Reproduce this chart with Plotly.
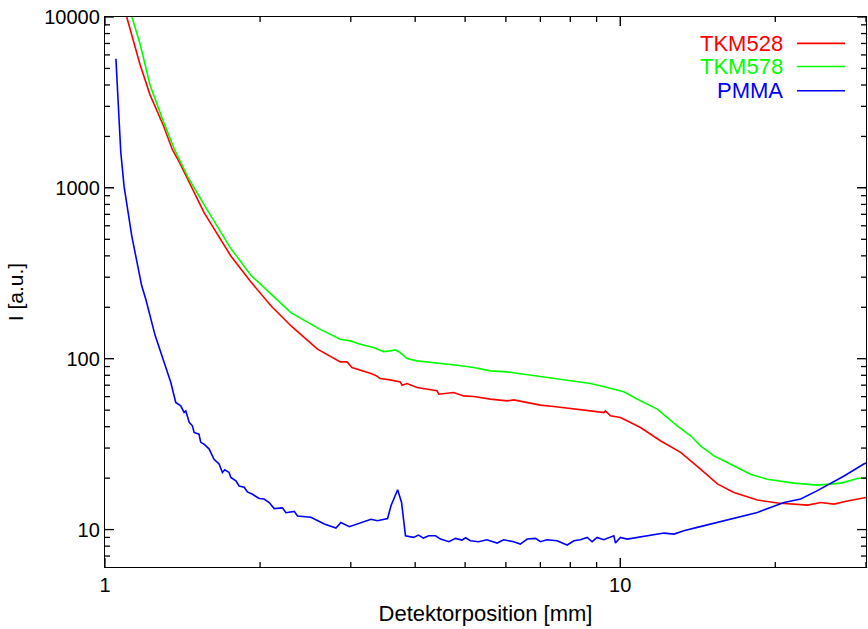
import plotly.graph_objects as go

# TKM528 (red)
tkm528_x = [1.102, 1.169, 1.223, 1.298, 1.351, 1.398, 1.557, 1.755, 1.913, 2.099, 2.3, 2.585,
            2.862, 2.949, 3.015, 3.129, 3.272, 3.346, 3.421, 3.578, 3.742, 3.772, 3.857, 4.033, 4.217,
            4.41, 4.443, 4.75, 4.967, 5.195, 5.598, 6.032, 6.215, 6.597, 7.0, 7.43, 8.125, 8.755, 9.293,
            9.36, 9.576, 10.01, 10.47, 10.95, 11.97, 13.1, 14.32, 15.44, 16.62, 18.46, 20.2, 23.1, 24.5,
            26.0, 27.6, 29.3, 30.0]
tkm528_y = [10000, 5286, 3503, 2318, 1679, 1389, 716, 399, 285, 204, 155, 113.7,
            95.8, 95.8, 88.8, 86.0, 82.3, 80.1, 76.6, 75.2, 73.2, 70.0, 71.6, 67.8, 66.3,
            64.9, 62.0, 63.4, 60.6, 60.1, 58.0, 56.7, 57.4, 55.4, 53.5, 52.5, 51.1, 49.5, 48.4,
            49.5, 46.3, 45.3, 42.3, 39.6, 33.1, 28.3, 22.6, 18.5, 16.5, 14.9, 14.3, 13.9, 14.4,
            14.1, 14.7, 15.1, 15.4]

# TKM578 (green)
tkm578_x = [1.128, 1.169, 1.223, 1.298, 1.362, 1.45, 1.58, 1.75, 1.919, 2.295, 2.6, 2.862, 2.992,
            3.129, 3.32, 3.473, 3.578, 3.66, 3.742, 3.857, 4.033, 4.217, 4.476, 4.824, 5.195, 5.598,
            6.032, 6.496, 7.0, 7.54, 7.89, 8.125, 8.755, 9.435, 10.16, 10.95, 11.8, 12.9, 13.7, 14.32,
            15.2, 16.14, 17.13, 17.9, 19.3, 21.75, 24.14, 26.8, 28.9, 30.0]
tkm578_y = [10000, 7000, 4000, 2450, 1700, 1150, 740, 447, 308, 186, 150, 130.0, 127.2,
            121.6, 116.2, 110.1, 111.1, 112.6, 108.7, 100.2, 97.1, 95.8, 93.7, 91.6, 88.8, 84.9,
            83.8, 81.2, 79.4, 76.6, 75.2, 74.2, 71.6, 67.8, 64.0, 56.7, 50.7, 40.5, 35.4, 30.9,
            27.0, 24.7, 22.6, 21.1, 19.7, 18.7, 18.2, 18.7, 19.9, 20.1]

# PMMA (blue)
pmma_x = [1.050, 1.056, 1.061, 1.073, 1.089, 1.127, 1.178, 1.2, 1.251, 1.318, 1.342, 1.372, 1.403,
          1.424, 1.435, 1.457, 1.478, 1.489, 1.522, 1.534, 1.557, 1.593, 1.605, 1.628, 1.665, 1.69,
          1.708, 1.741, 1.755, 1.795, 1.821, 1.863, 1.89, 1.933, 1.992, 2.036, 2.083, 2.13, 2.21,
          2.245, 2.33, 2.364, 2.51, 2.585, 2.665, 2.807, 2.87, 2.98, 3.09, 3.283, 3.38, 3.536, 3.59,
          3.698, 3.764, 3.81, 3.83, 3.97, 4.06, 4.15, 4.25, 4.38, 4.48, 4.65, 4.79, 4.93, 5.01, 5.12,
          5.31, 5.51, 5.77, 5.94, 6.21, 6.40, 6.60, 6.85, 7.00, 7.21, 7.54, 7.89, 8.13, 8.37, 8.63,
          8.82, 9.02, 9.29, 9.72, 9.79, 10.01, 10.32, 10.79, 11.46, 12.16, 12.72, 13.29, 14.11,
          15.44, 16.88, 18.46, 20.8, 22.4, 24.14, 26.0, 27.2, 29.7, 30.0]
pmma_y = [5700, 4100, 2600, 1620, 1020, 524, 268, 223, 137, 86.5, 72.6, 55.5, 53.0,
          48.5, 49.5, 42.4, 40.5, 37.0, 36.2, 32.4, 31.6, 29.6, 28.3, 25.8, 24.2, 21.6,
          22.4, 21.6, 20.2, 19.3, 18.0, 17.7, 16.6, 16.1, 15.2, 15.1, 14.4, 13.27, 13.4,
          12.56, 12.78, 12.0, 11.8, 11.26, 10.78, 10.2, 11.0, 10.4, 10.77, 11.5, 11.26, 11.6, 13.8,
          17.1, 14.4, 10.07, 9.20, 9.00, 9.29, 8.92, 9.20, 9.20, 8.80, 8.49, 8.88, 8.68, 8.96, 8.60,
          8.49, 8.72, 8.34, 8.72, 8.49, 8.23, 8.80, 8.88, 8.49, 8.72, 8.60, 8.12, 8.60, 8.72, 9.00,
          8.49, 9.00, 8.72, 9.20, 8.34, 9.00, 8.80, 9.00, 9.20, 9.54, 9.41, 9.84, 10.30,
          11.0, 11.8, 12.6, 14.4, 15.1, 16.9, 19.0, 20.6, 24.2, 24.5]

x_tickvals = [1, 10]
x_ticktext = ["1", "10"]
x_minor = [2, 3, 4, 5, 6, 7, 8, 9, 20, 30]
y_tickvals = [10, 100, 1000, 10000]
y_ticktext = ["10", "100", "1000", "10000"]
y_minor = [7, 8, 9, 20, 30, 40, 50, 60, 70, 80, 90, 200, 300, 400, 500, 600, 700, 800, 900,
           2000, 3000, 4000, 5000, 6000, 7000, 8000, 9000]

series = [
    ("TKM528", tkm528_x, tkm528_y, "#ff0000"),
    ("TKM578", tkm578_x, tkm578_y, "#00ff00"),
    ("PMMA", pmma_x, pmma_y, "#0000ff"),
]

FONT = "Liberation Sans, Arial, Helvetica, sans-serif"
W, H = 868, 629
ML, MR, MT, MB = 105, 2, 17, 62
PLOT_W, PLOT_H = W - ML - MR, H - MT - MB
MAJOR_LEN, MINOR_LEN = 9, 5

fig = go.Figure()
for name, xs, ys, col in series:
    fig.add_trace(go.Scatter(x=xs, y=ys, mode="lines", name=name,
                             line=dict(color=col, width=1.6), showlegend=False))

# gnuplot-style key: text right-aligned, line sample to the right
legend_rows = [0.952, 0.910, 0.866]
for (name, xs, ys, col), yp in zip(series, legend_rows):
    fig.add_annotation(x=0.8936, y=yp, xref="paper", yref="paper", text=name,
                       showarrow=False, xanchor="right", yanchor="middle",
                       font=dict(family=FONT, size=22, color=col))
    fig.add_shape(type="line", xref="paper", yref="paper", x0=0.9093, x1=0.9724,
                  y0=yp, y1=yp, line=dict(color=col, width=1.6))

# inward tick marks on all four sides, positioned at the tick values via the axes
tick_line = dict(color="black", width=1.3)
for vals, ln in ((x_tickvals, MAJOR_LEN), (x_minor, MINOR_LEN)):
    f = ln / PLOT_H
    for v in vals:
        fig.add_shape(type="line", xref="x", yref="y domain", x0=v, x1=v, y0=0, y1=f, line=tick_line)
        fig.add_shape(type="line", xref="x", yref="y domain", x0=v, x1=v, y0=1, y1=1 - f, line=tick_line)
for vals, ln in ((y_tickvals, MAJOR_LEN), (y_minor, MINOR_LEN)):
    f = ln / PLOT_W
    for v in vals:
        fig.add_shape(type="line", xref="x domain", yref="y", y0=v, y1=v, x0=0, x1=f, line=tick_line)
        fig.add_shape(type="line", xref="x domain", yref="y", y0=v, y1=v, x0=1, x1=1 - f, line=tick_line)

axis_common = dict(showline=True, linecolor="black", linewidth=1.3, mirror="allticks",
                   ticks="inside", ticklen=MAJOR_LEN, tickcolor="black", tickwidth=1.3,
                   showgrid=False, zeroline=False,
                   tickfont=dict(family=FONT, size=20, color="black"))

fig.update_xaxes(type="log", range=[0, 1.4771], tickvals=x_tickvals, ticktext=x_ticktext,
                 title=dict(text="Detektorposition [mm]", font=dict(family=FONT, size=22, color="black"),
                            standoff=10), **axis_common)
fig.update_yaxes(type="log", range=[0.781, 4.0], tickvals=y_tickvals, ticktext=y_ticktext,
                 title=dict(text="I [a.u.]", font=dict(family=FONT, size=21, color="black"),
                            standoff=14), **axis_common)

fig.update_layout(width=W, height=H, margin=dict(l=ML, r=MR, t=MT, b=MB),
                  plot_bgcolor="white", paper_bgcolor="white",
                  font=dict(family=FONT, color="black"))

fig.write_html("out.html")
